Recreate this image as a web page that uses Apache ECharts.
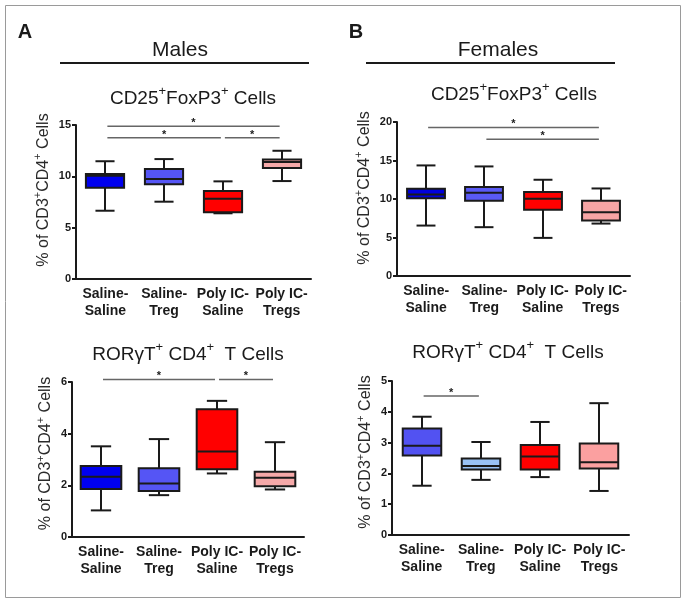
<!DOCTYPE html>
<html>
<head>
<meta charset="utf-8">
<script src="https://cdn.jsdelivr.net/npm/echarts@6/dist/echarts.min.js"></script>
<style>
  html, body { margin: 0; padding: 0; background: #fff; }
  #chart { width: 686px; height: 602px; }
</style>
</head>
<body>
<div id="chart"></div>
<script>
const categories = ['Saline-\nSaline', 'Saline-\nTreg', 'Poly IC-\nSaline', 'Poly IC-\nTregs'];

// each box: [min, Q1, median, Q3, max]
const malesFoxp3 = [[6.65, 8.9, 10.05, 10.22, 11.47], [7.53, 9.22, 9.75, 10.71, 11.68], [6.4, 6.49, 7.82, 8.57, 9.51], [9.54, 10.8, 11.39, 11.65, 12.49]];
const femalesFoxp3 = [[6.55, 10.1, 10.59, 11.33, 14.36], [6.34, 9.77, 10.8, 11.55, 14.23], [4.95, 8.6, 10.03, 10.9, 12.5], [6.81, 7.2, 8.29, 9.77, 11.37]];
const malesRorgt = [[1.03, 1.86, 2.33, 2.75, 3.51], [1.62, 1.78, 2.07, 2.66, 3.79], [2.46, 2.62, 3.31, 4.95, 5.27], [1.84, 1.96, 2.29, 2.53, 3.67]];
const femalesRorgt = [[1.6, 2.58, 2.9, 3.46, 3.84], [1.79, 2.13, 2.24, 2.48, 3.02], [1.88, 2.13, 2.55, 2.92, 3.67], [1.43, 2.16, 2.36, 2.97, 4.28]];

// significance brackets: [from category, to category, height]
const malesFoxp3Sig = [[0, 3, 14.87], [0, 2, 13.76], [2, 3, 13.76]];
const femalesFoxp3Sig = [[0, 3, 19.3], [1, 3, 17.75]];
const malesRorgtSig = [[0, 2, 6.1], [2, 3, 6.1]];
const femalesRorgtSig = [[0, 1, 4.51]];

const FONT = '"Liberation Sans", Arial, sans-serif';
const INK = '#1a1a1a';

const panels = [
  { data: malesFoxp3, sig: malesFoxp3Sig, max: 15, interval: 5,
    colors: ['#0000ee', '#5555f5', '#ff0000', '#f6a9a9'],
    grid: { left: 76, top: 125, width: 235, height: 154 }, nameGap: 19, namePad: 24, boxRatio: 0.65 },
  { data: femalesFoxp3, sig: femalesFoxp3Sig, max: 20, interval: 5,
    colors: ['#0000dd', '#5a5af5', '#ff0000', '#f7a5a5'],
    grid: { left: 397, top: 122, width: 233, height: 154 }, nameGap: 19, namePad: 22, boxRatio: 0.65 },
  { data: malesRorgt, sig: malesRorgtSig, max: 6, interval: 2,
    colors: ['#0000ee', '#5555f5', '#ff0000', '#f6a9a9'],
    grid: { left: 72, top: 382, width: 232, height: 155 }, nameGap: 15, namePad: 12, boxRatio: 0.7 },
  { data: femalesRorgt, sig: femalesRorgtSig, max: 5, interval: 1,
    colors: ['#5252f2', '#99c2f5', '#ff0000', '#fba0a0'],
    grid: { left: 392, top: 381, width: 237, height: 154 }, nameGap: 14, namePad: 12, boxRatio: 0.65 }
];

const line = { stroke: INK, lineWidth: 2 };

function boxRenderer(colors, ratio) {
  return function (params, api) {
    const c = api.value(0);
    const band = api.size([1, 0])[0];
    const half = band * ratio / 2;
    const cap = half / 2;
    const pMin = api.coord([c, api.value(1)]);
    const pQ1 = api.coord([c, api.value(2)]);
    const pMed = api.coord([c, api.value(3)]);
    const pQ3 = api.coord([c, api.value(4)]);
    const pMax = api.coord([c, api.value(5)]);
    const x = Math.round(pMin[0]);
    return {
      type: 'group',
      children: [
        { type: 'line', shape: { x1: x, y1: pMax[1], x2: x, y2: pQ3[1] }, style: line },
        { type: 'line', shape: { x1: x, y1: pQ1[1], x2: x, y2: pMin[1] }, style: line },
        { type: 'line', shape: { x1: x - cap, y1: pMax[1], x2: x + cap, y2: pMax[1] }, style: line },
        { type: 'line', shape: { x1: x - cap, y1: pMin[1], x2: x + cap, y2: pMin[1] }, style: line },
        { type: 'rect', shape: { x: x - half, y: pQ3[1], width: half * 2, height: pQ1[1] - pQ3[1] },
          style: { fill: colors[params.dataIndex], stroke: INK, lineWidth: 2 } },
        { type: 'line', shape: { x1: x - half, y1: pMed[1], x2: x + half, y2: pMed[1] }, style: line }
      ]
    };
  };
}

function sigRenderer(params, api) {
  const a = api.coord([api.value(0), api.value(2)]);
  const b = api.coord([api.value(1), api.value(2)]);
  const x1 = a[0] + 2, x2 = b[0] - 2;
  return {
    type: 'group',
    children: [
      { type: 'line', shape: { x1: x1, y1: a[1], x2: x2, y2: a[1] }, style: { stroke: '#666', lineWidth: 1.5 } },
      { type: 'text', x: (x1 + x2) / 2, y: a[1] - 3,
        style: { text: '*', fontSize: 11, fontWeight: 'bold', fontFamily: FONT, fill: INK,
                 align: 'center', verticalAlign: 'middle', textAlign: 'center', textVerticalAlign: 'middle' } }
    ]
  };
}

const grids = [], xAxes = [], yAxes = [], series = [];
panels.forEach((p, i) => {
  grids.push(p.grid);
  xAxes.push({
    type: 'category', gridIndex: i, data: categories,
    axisLine: { lineStyle: { color: INK, width: 2 } },
    axisTick: { alignWithLabel: true, length: 5, lineStyle: { color: INK, width: 2 } },
    axisLabel: { interval: 0, color: INK, fontWeight: 'bold', fontSize: 14, lineHeight: 17, margin: 7, fontFamily: FONT }
  });
  yAxes.push({
    type: 'value', gridIndex: i, min: 0, max: p.max, interval: p.interval,
    axisLine: { show: true, lineStyle: { color: INK, width: 2 } },
    axisTick: { show: true, length: 4, lineStyle: { color: INK, width: 2 } },
    axisLabel: { color: INK, fontWeight: 'bold', fontSize: 11, margin: 5, fontFamily: FONT },
    splitLine: { show: false },
    name: '% of CD3{s|+}CD4{s|+} Cells',
    nameLocation: 'middle', nameRotate: 90, nameGap: p.nameGap,
    nameTextStyle: {
      color: '#2a2a2a', fontSize: 16, lineHeight: 22, fontFamily: FONT,
      padding: [0, 0, 0, p.namePad],
      rich: { s: { fontSize: 11, lineHeight: 11, verticalAlign: 'top', color: '#2a2a2a', fontFamily: FONT } }
    }
  });
  series.push({
    type: 'custom', xAxisIndex: i, yAxisIndex: i, z: 5,
    data: p.data.map((d, k) => [k].concat(d)),
    encode: { x: 0, y: [1, 2, 3, 4, 5] },
    renderItem: boxRenderer(p.colors, p.boxRatio)
  });
  series.push({
    type: 'custom', xAxisIndex: i, yAxisIndex: i, z: 4,
    data: p.sig,
    encode: { x: [0, 1], y: 2 },
    renderItem: sigRenderer
  });
});

function richText(text, x, y, size) {
  return {
    type: 'text', x: x, y: y,
    style: {
      text: text, fontSize: size, lineHeight: size + 9, fontFamily: FONT, fill: INK,
      align: 'center', verticalAlign: 'middle', textAlign: 'center', textVerticalAlign: 'middle',
      rich: {
        n: { fontSize: size, lineHeight: size + 9, fontFamily: FONT, fill: INK },
        s: { fontSize: 13, lineHeight: 13, verticalAlign: 'top', fontFamily: FONT, fill: INK }
      }
    }
  };
}

function plainText(text, x, y, size, weight) {
  return {
    type: 'text', x: x, y: y,
    style: { text: text, fontSize: size, fontWeight: weight || 'normal', fontFamily: FONT, fill: INK,
             align: 'center', verticalAlign: 'middle', textAlign: 'center', textVerticalAlign: 'middle' }
  };
}

const graphics = [
  { type: 'rect', shape: { x: 5.5, y: 5.5, width: 675, height: 592 }, style: { fill: 'none', stroke: '#9a9a9a', lineWidth: 1 } },
  plainText('A', 25, 32, 20, 'bold'),
  plainText('B', 356, 32, 20, 'bold'),
  plainText('Males', 180, 50, 21),
  plainText('Females', 498, 50, 21),
  { type: 'line', shape: { x1: 60, y1: 63, x2: 309, y2: 63 }, style: { stroke: INK, lineWidth: 2 } },
  { type: 'line', shape: { x1: 366, y1: 63, x2: 615, y2: 63 }, style: { stroke: INK, lineWidth: 2 } },
  richText('{n|CD25}{s|+}{n|FoxP3}{s|+}{n| Cells}', 193, 99, 19),
  richText('{n|CD25}{s|+}{n|FoxP3}{s|+}{n| Cells}', 514, 95, 19),
  richText('{n|RORγT}{s|+}{n| CD4}{s|+}{n|  T Cells}', 188, 355, 19),
  richText('{n|RORγT}{s|+}{n| CD4}{s|+}{n|  T Cells}', 508, 353, 19)
];

const chart = echarts.init(document.getElementById('chart'));
chart.setOption({
  animation: false,
  backgroundColor: '#fff',
  textStyle: { fontFamily: FONT },
  grid: grids,
  xAxis: xAxes,
  yAxis: yAxes,
  series: series,
  graphic: graphics
});
</script>
</body>
</html>
